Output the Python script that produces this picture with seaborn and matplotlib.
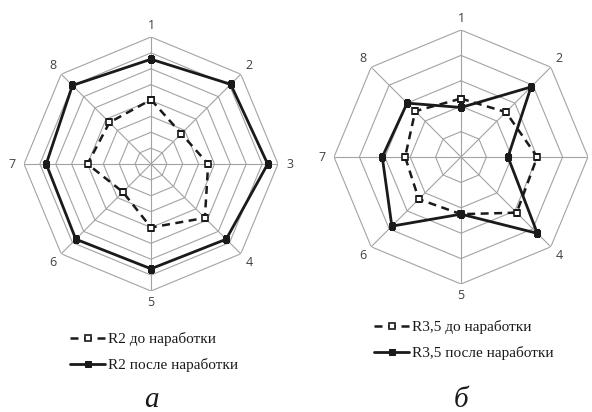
import numpy as np
import pandas as pd
import matplotlib
matplotlib.use("Agg")
import matplotlib.pyplot as plt
import seaborn as sns

axis_labels = ["1", "2", "3", "4", "5", "6", "7", "8"]
# right chart: label "3" falls outside the picture in the reference
axis_labels_right = ["1", "2", "", "4", "5", "6", "7", "8"]

# left chart (а), scale 0..8
r2_before = [4.05, 2.7, 3.6, 4.8, 4.0, 2.5, 4.0, 3.7]
r2_after = [6.6, 7.1, 7.35, 6.7, 6.6, 6.7, 6.6, 7.0]
# right chart (б), scale 0..5
r35_before = [2.3, 2.5, 3.0, 3.1, 2.25, 2.35, 2.2, 2.55]
r35_after = [1.95, 3.9, 1.85, 4.25, 2.25, 3.85, 3.1, 3.0]

sns.set_theme(style="white")
plt.rcParams["font.family"] = ["Open Sans", "DejaVu Sans"]

fig = plt.figure(figsize=(5.92, 4.12), dpi=100)
fig.patch.set_facecolor("white")

n = len(axis_labels)
theta = np.linspace(0, 2 * np.pi, n, endpoint=False)
theta_closed = np.append(theta, 2 * np.pi)


def radar(rect, rmax, before, after, names, labels, leg_xy):
    ax = fig.add_axes(rect, projection="polar")
    ax.set_theta_zero_location("N")
    ax.set_theta_direction(-1)
    ax.grid(False)
    ax.spines["polar"].set_visible(False)
    ax.set_facecolor("none")
    # octagonal grid
    for lev in range(1, rmax + 1):
        ax.plot(theta_closed, [lev] * (n + 1), color="#a3a3a3", lw=0.8, zorder=1)
    for t in theta:
        ax.plot([t, t], [0, rmax], color="#a3a3a3", lw=0.8, zorder=1)

    df = pd.DataFrame({
        "theta": theta_closed,
        "before": before + before[:1],
        "after": after + after[:1],
    })
    sns.lineplot(data=df, x="theta", y="before", ax=ax, sort=False, estimator=None,
                 color="#1a1a1a", linestyle=(0, (3.2, 2.2)), lw=1.8, marker="s",
                 markersize=4, markerfacecolor="white", markeredgecolor="#1a1a1a",
                 markeredgewidth=1.2, label=names[0], zorder=3)
    sns.lineplot(data=df, x="theta", y="after", ax=ax, sort=False, estimator=None,
                 color="#1a1a1a", lw=2.0, marker="s", markersize=4,
                 markeredgecolor="#1a1a1a", label=names[1], zorder=4)

    ax.set_ylim(0, rmax)
    ax.set_yticks([])
    ax.set_xticks(theta)
    ax.set_xticklabels(labels, fontsize=9, color="#404040")
    ax.tick_params(axis="x", pad=-4.5)
    ax.set_xlabel("")
    ax.set_ylabel("")
    leg = ax.legend(loc="upper left", bbox_to_anchor=leg_xy, bbox_transform=fig.transFigure,
                    frameon=False, numpoints=1, handlelength=2.3, handletextpad=0.2,
                    labelspacing=0.78, borderaxespad=0, borderpad=0,
                    prop={"family": "Liberation Serif", "size": 11})
    for t in leg.get_texts():
        t.set_color("#1a1a1a")
    return ax


R = 127
W, H = 592, 412
radar([(151 - R) / W, (H - 164 - R) / H, 2 * R / W, 2 * R / H], 8,
      r2_before, r2_after, ["R2 до наработки", "R2 после наработки"],
      axis_labels, (70 / W, 1 - 332 / H))
radar([(461 - R) / W, (H - 157 - R) / H, 2 * R / W, 2 * R / H], 5,
      r35_before, r35_after, ["R3,5 до наработки", "R3,5 после наработки"],
      axis_labels_right, (374 / W, 1 - 320 / H))

fig.text(151 / W, 1 - 407 / H, "а", ha="center", va="baseline", fontsize=21,
         style="italic", family="Liberation Serif", color="#1a1a1a")
fig.text(461 / W, 1 - 407 / H, "б", ha="center", va="baseline", fontsize=21,
         style="italic", family="Liberation Serif", color="#1a1a1a")

fig.savefig("out.png", dpi=100, facecolor="white")
